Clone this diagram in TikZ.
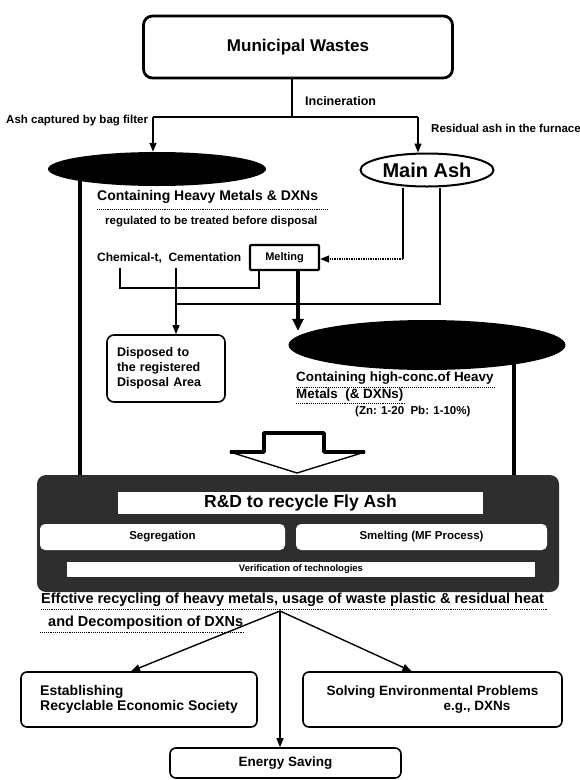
\documentclass[tikz,border=0pt]{standalone}
\usepackage{fontspec}
\setmainfont{Liberation Sans}
\usetikzlibrary{arrows.meta,shapes.geometric,calc}
\newcommand{\fsz}[2]{\fontsize{#1pt}{#2pt}\selectfont}
\tikzset{
  lbl/.style={inner sep=0pt, font=\bfseries, anchor=west},
  rbox/.style={draw, line width=1.6pt, rounded corners=6pt, inner sep=0pt, align=center},
  wbar/.style={fill=white, inner sep=0pt, font=\bfseries, align=center},
  conn/.style={line width=1.4pt},
  heavy/.style={line width=3.6pt},
  tipa/.style={-{Triangle[length=9pt,width=7pt]}},
  tipb/.style={-{Triangle[length=12pt,width=11pt]}},
  uline/.style={line width=0.9pt, densely dotted},
  blackell/.style={ellipse, fill=black, inner sep=0pt},
}
\begin{document}
\begin{tikzpicture}[x=1pt,y=-1pt]
\useasboundingbox (0,0) rectangle (580,780);

% ---------- nodes ----------
\node[rbox, line width=2.8pt, rounded corners=9pt, minimum width=309pt, minimum height=62pt, font=\bfseries\fsz{17}{20}] (muni) at (298,47) {Municipal Wastes};
\node[lbl] (incl) at (305,101) {\fsz{12.5}{15}Incineration};
\node[lbl] (bagl) at (6,121) {\fsz{11.5}{14}Ash captured by bag filter};
\node[lbl] (resl) at (431,128) {\fsz{11.5}{14}Residual ash in the furnace};

\node[blackell, minimum width=218pt, minimum height=34pt] (fly) at (157,169) {};
\node[ellipse, draw, line width=2pt, inner sep=0pt, minimum width=133pt, minimum height=33pt, font=\bfseries\fsz{20}{24}] (main) at (427,170) {Main Ash};

\node[lbl] (chm) at (97,197) {\fsz{14}{17}Containing Heavy Metals \& DXNs};
\node[lbl] (reg) at (105,222) {\fsz{11.5}{14}regulated to be treated before disposal};
\node[lbl] (chem) at (97,258) {\fsz{12}{14}Chemical-t,\ \ Cementation};
\node[rbox, line width=2.4pt, rounded corners=1pt, minimum width=69pt, minimum height=25pt, font=\bfseries\fsz{11}{13}] (melt) at (284.5,257.5) {Melting};

\node[rbox, rounded corners=7pt, minimum width=118pt, minimum height=67pt, text width=98pt, align=left, font=\bfseries\fsz{12.5}{15}] (disp) at (166,368.5) {Disposed to\\the registered\\Disposal Area};

\node[blackell, minimum width=277pt, minimum height=50pt] (hc) at (427,345) {};
\node[lbl] (hc1) at (296,378) {\fsz{13.4}{16}Containing high-conc.of Heavy};
\node[lbl] (hc2) at (296,395) {\fsz{13.4}{16}Metals\ \ (\& DXNs)};
\node[lbl] (zn) at (355,412) {\fsz{11.5}{14}(Zn: 1-20\ \ Pb: 1-10\%)};

% R&D block
\node[fill=black!82, rounded corners=9pt, minimum width=522pt, minimum height=117pt, inner sep=0pt] (rd) at (298,533.5) {};
\node[wbar, minimum width=365pt, minimum height=22pt] (rdt) at (300.5,503) {\fsz{17.5}{20}R\&D to recycle Fly Ash};
\node[wbar, rounded corners=5pt, minimum width=245pt, minimum height=26pt] (seg) at (162.5,537) {\fsz{11.5}{14}Segregation};
\node[wbar, rounded corners=5pt, minimum width=251pt, minimum height=26pt] (sme) at (421.5,537) {\fsz{11.5}{14}Smelting (MF Process)};
\node[wbar, minimum width=468pt, minimum height=15pt] (ver) at (301,569.5) {\fsz{9.5}{11}Verification of technologies};

\node[lbl] (eff1) at (41,600) {\fsz{14.5}{17}Effctive recycling of heavy metals, usage of waste plastic \& residual heat};
\node[lbl] (eff2) at (48,623) {\fsz{14.5}{17}and Decomposition of DXNs};

\node[rbox, minimum width=236pt, minimum height=55pt, align=left, font=\bfseries\fsz{14}{15}] (est) at (139,699.5) {Establishing\\Recyclable Economic Society};
\node[rbox, minimum width=259pt, minimum height=55pt, align=left, font=\bfseries\fsz{13.5}{15}] (sol) at (432.5,699.5) {Solving Environmental Problems\\\hspace*{117pt}e.g., DXNs};
\node[rbox, minimum width=231pt, minimum height=30pt, font=\bfseries\fsz{13.5}{16}] (ene) at (285.5,763) {Energy Saving};

% ---------- coordinates ----------
\coordinate (inc) at (292,117);
\coordinate (incL) at (153,117);
\coordinate (incR) at (418,117);
\coordinate (flyfoot) at (80,178);
\coordinate (m1) at (403,259);
\coordinate (m2) at (440,304);
\coordinate (cem) at (176,304);
\coordinate (cemtop) at (176,268);
\coordinate (ch1) at (120,268);
\coordinate (ch2) at (120,288);
\coordinate (ch3) at (259,288);
\coordinate (mx) at (298,0);
\coordinate (hcfoot) at (514,360);
\coordinate (br) at (280,611);

% ---------- connectors ----------
\draw[conn] (muni.south -| inc) -- (inc);
\draw[conn] (incL) -- (incR);
\draw[conn, tipa] (incL) -- (incL |- fly.north);
\draw[conn, tipa] (incR) -- (incR |- main.north);

\draw[heavy] (flyfoot) -- (flyfoot |- rd.north);
\draw[heavy] (hcfoot) -- (hcfoot |- rd.north);

\draw[conn] (main.south -| m1) -- (m1);
\draw[conn, densely dotted, tipa] (m1) -- (m1 -| melt.east);
\draw[conn] (main.south -| m2) -- (m2) -- (cem);
\draw[conn] (ch1) -- (ch2) -- (ch3) -- (ch3 |- melt.south);
\draw[conn, tipa] (cemtop) -- (cemtop |- disp.north);
\draw[heavy, tipb] (melt.south -| mx) -- ($(mx |- hc.north)+(0,11)$);

% underlines
\draw[uline] (97,209) -- (328,209);
\draw[uline] (296,387) -- (494,387);
\draw[uline] (296,403) -- (405,403);
\draw[uline] (41,609) -- (548,609);
\draw[uline] (40,632) -- (245,632);

% hollow arrow
\draw[line width=1.4pt, fill=white, line join=round] (264,452) -- (264,433) -- (324,433) -- (324,452) -- (365,452) -- (297,473) -- (230,452) -- cycle;
\draw[heavy, line join=round] (230,452) -- (264,452) -- (264,433) -- (324,433) -- (324,452) -- (365,452);

% bottom arrows
\draw[conn, tipa] (br) -- ($(est.north)+(-8,0)$);
\draw[conn, tipa] (br) -- ($(sol.north)+(-21,0)$);
\draw[conn, tipa] (br) -- (br |- ene.north);
\end{tikzpicture}
\end{document}
